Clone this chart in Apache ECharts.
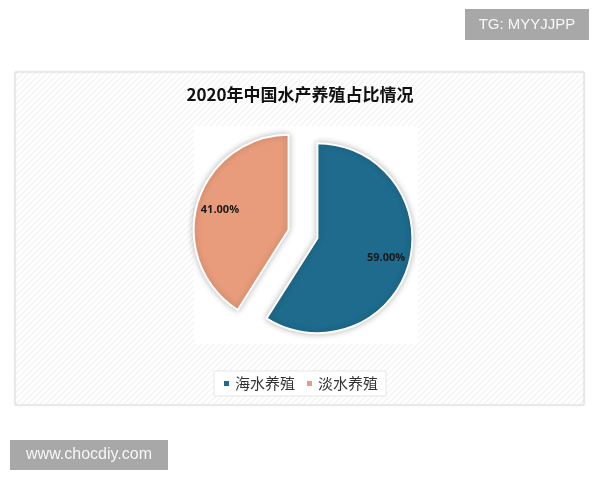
<!DOCTYPE html>
<html><head><meta charset="utf-8">
<script src="https://cdn.jsdelivr.net/npm/echarts@6/dist/echarts.min.js"></script>
<style>html,body{margin:0;padding:0;background:#fff}#c{width:600px;height:480px}</style>
</head><body><div id="c"></div>
<script>
const categories = ['海水养殖', '淡水养殖'];
const values = [59, 41];
const colors = ['#1e6b8d', '#e89c7b'];
const titleText = '2020年中国水产养殖占比情况';

// diagonal stripe pattern
const pc = document.createElement('canvas');
pc.width = 6; pc.height = 6;
const g = pc.getContext('2d');
g.fillStyle = '#ffffff'; g.fillRect(0,0,6,6);
g.strokeStyle = '#f1f1f1'; g.lineWidth = 1.2;
g.beginPath(); g.moveTo(0,6); g.lineTo(6,0); g.moveTo(-3,3); g.lineTo(3,-3); g.moveTo(3,9); g.lineTo(9,3); g.stroke();

const data = categories.map((n, i) => ({ name: n, value: values[i], selected: true, itemStyle: { color: colors[i] } }));
const labelData = categories.map((n, i) => ({ name: n, value: values[i], selected: true }));

const chart = echarts.init(document.getElementById('c'));
chart.setOption({
  backgroundColor: '#fff',
  animation: false,
  title: { text: titleText, left: 'center', top: 81, textStyle: { fontFamily: 'Noto Sans CJK SC', fontSize: 17, fontWeight: 'bold', color: '#111' } },
  legend: {
    data: categories, bottom: 84, left: 'center', icon: 'rect', itemWidth: 7, itemHeight: 7, itemGap: 10,
    backgroundColor: '#fff', borderColor: '#e6e6e6', borderWidth: 1, padding: [5, 8],
    textStyle: { fontFamily: 'Noto Sans CJK SC', fontSize: 15, color: '#333' }
  },
  graphic: [
    { type: 'rect', z: -10, shape: { x: 15, y: 72, width: 569, height: 333 }, style: { fill: { image: pc, repeat: 'repeat' }, stroke: '#dedede', lineWidth: 1, shadowBlur: 2, shadowColor: 'rgba(0,0,0,0.08)' } },
    { type: 'rect', z: -9, shape: { x: 194, y: 126, width: 224, height: 218 }, style: { fill: '#fff' } },
    { type: 'rect', shape: { x: 465, y: 9, width: 124, height: 31 }, style: { fill: '#a8a8a8' } },
    { type: 'text', x: 527, y: 25, style: { text: 'TG: MYYJJPP', fill: '#f7f7f7', fontFamily: 'Liberation Sans', fontSize: 15, align: 'center', verticalAlign: 'middle' } },
    { type: 'rect', shape: { x: 10, y: 440, width: 158, height: 30 }, style: { fill: '#a8a8a8' } },
    { type: 'text', x: 89, y: 455, style: { text: 'www.chocdiy.com', fill: '#f7f7f7', fontFamily: 'Liberation Sans', fontSize: 16, align: 'center', verticalAlign: 'middle' } }
  ],
  series: [
    {
      type: 'pie', center: [303, 234], radius: [0, 95], startAngle: 90, clockwise: true,
      selectedMode: 'multiple', selectedOffset: 15, silent: true,
      label: { show: false }, labelLine: { show: false },
      itemStyle: { borderColor: '#fff', borderWidth: 2, shadowBlur: 6, shadowColor: 'rgba(0,0,0,0.25)' },
      select: { itemStyle: { borderColor: '#fff', borderWidth: 2 } },
      data: data
    },
    {
      type: 'pie', center: [303, 234], radius: [0, 137], startAngle: 90, clockwise: true,
      selectedMode: 'multiple', selectedOffset: 15, silent: true, legendHoverLink: false,
      itemStyle: { color: 'rgba(0,0,0,0)', borderWidth: 0 },
      select: { itemStyle: { color: 'rgba(0,0,0,0)', borderWidth: 0 } },
      labelLine: { show: false },
      label: { show: true, position: 'inside', formatter: p => p.value.toFixed(2) + '%', fontFamily: 'Open Sans', fontWeight: 'bold', fontSize: 11, color: '#1a1a1a' },
      data: labelData
    }
  ]
});
</script></body></html>
